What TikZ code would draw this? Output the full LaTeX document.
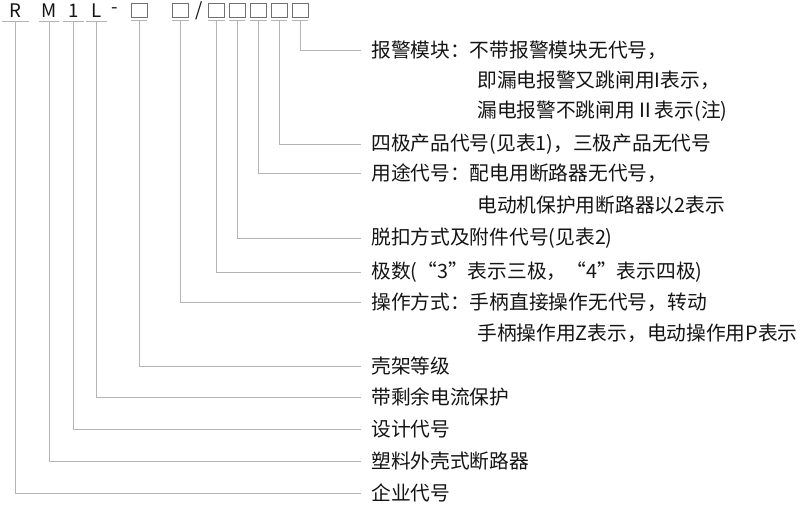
\documentclass[tikz,border=0pt]{standalone}
\usepackage{fontspec}
\setmainfont{Noto Sans CJK SC}
\usetikzlibrary{positioning}
\definecolor{leadgray}{HTML}{B4B4B4}
\definecolor{boxgray}{HTML}{707070}
\definecolor{txtgray}{HTML}{141414}
\tikzset{
  glyph/.style={inner sep=0pt, minimum height=10.5pt, minimum width=#1,
    text=txtgray, font=\fontsize{14}{16}\selectfont},
  slot/.style={draw=boxgray, line width=0.7pt, inner sep=0pt,
    minimum width=12pt, minimum height=10.5pt},
  lbl/.style={anchor=west, inner xsep=7.5pt, inner ysep=0pt,
    text=txtgray, font=\fontsize{14.8}{16}\selectfont},
  lead/.style={draw=leadgray, line width=0.75pt}
}
\begin{document}
\begin{tikzpicture}[x=0.75pt,y=-0.75pt]
		\useasboundingbox (0,0) rectangle (800,504);
		% model code
		\node[glyph=20.25pt] (r) at (15.5,11) {R};
		\node[glyph=15pt] (m) at (49,11) {M};
		\node[glyph=15.75pt] (one) at (73.5,11) {1};
		\node[glyph=15.75pt] (l) at (96.5,11) {L};
		\node[glyph=6pt] (dash) at (115,11) {-};
		\node[slot] (b1) at (139,10) {};
		\node[slot] (b2) at (180.5,10) {};
		\node[glyph=6pt] (slash) at (199,11) {/};
		\node[slot] (b3) at (216.5,10) {};
		\node[slot] (b4) at (237,10) {};
		\node[slot] (b5) at (258.5,10) {};
		\node[slot] (b6) at (279,10) {};
		\node[slot] (b7) at (300,10) {};
		%
		\node[lbl] (t1) at (361,50) {报警模块：不带报警模块无代号，};
		\node[lbl] (t1a) at (467,80) {即漏电报警又跳闸用I表示，};
		\node[lbl] (t1b) at (467,111) {漏电报警不跳闸用Ⅱ表示(注)};
		\node[lbl] (t2) at (361,144) {四极产品代号(见表1)，三极产品无代号};
		\node[lbl] (t3) at (361,173) {用途代号：配电用断路器无代号，};
		\node[lbl] (t3a) at (467,205) {电动机保护用断路器以2表示};
		\node[lbl] (t4) at (361,238) {脱扣方式及附件代号(见表2)};
		\node[lbl] (t5) at (361,272) {极数(“3”表示三极，“4”表示四极)};
		\node[lbl] (t6) at (361,302) {操作方式：手柄直接操作无代号，转动};
		\node[lbl] (t6a) at (467,333) {手柄操作用Z表示，电动操作用P表示};
		\node[lbl] (t7) at (361,366) {壳架等级};
		\node[lbl] (t8) at (361,397) {带剩余电流保护};
		\node[lbl] (t9) at (361,429) {设计代号};
		\node[lbl] (t10) at (361,461) {塑料外壳式断路器};
		\node[lbl] (t11) at (361,493) {企业代号};
		%
		\foreach \c in {r,m,one,l,b1,b2,b3,b4,b5,b6,b7}
		  \draw[lead] ([yshift=-2.25pt]\c.south west) -- ([yshift=-2.25pt]\c.south east);
		\foreach \c/\t in {b7/t1,b6/t2,b5/t3,b4/t4,b3/t5,b2/t6,b1/t7,l/t8,one/t9,m/t10,r/t11}
		  \draw[lead] ([yshift=-2.25pt]\c.south) |- (\t.west);
		\end{tikzpicture}
\end{document}
